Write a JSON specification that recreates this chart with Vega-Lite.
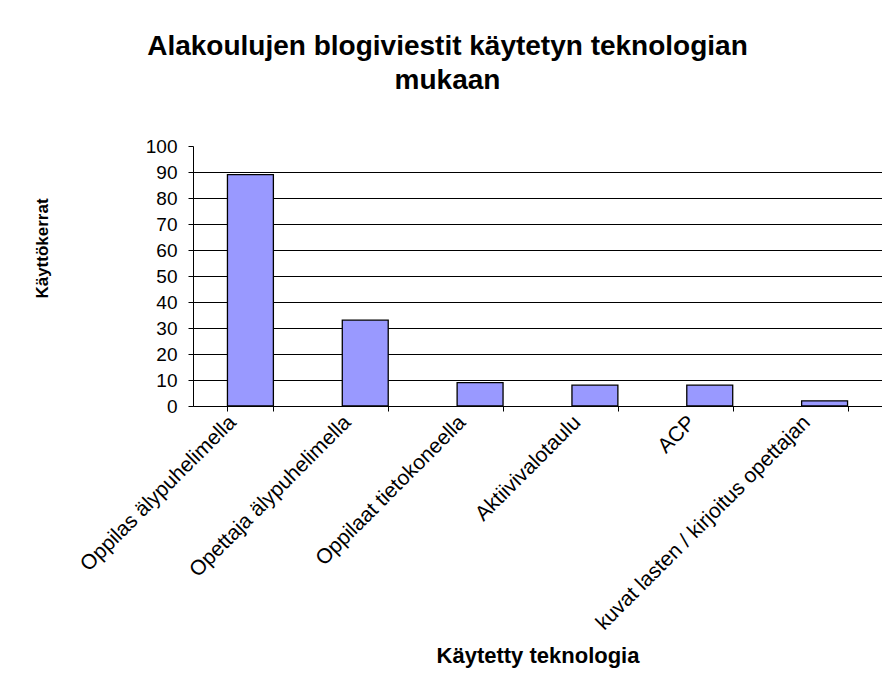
{
  "$schema": "https://vega.github.io/schema/vega-lite/v6.json",
  "autosize": {"type": "none"},
  "padding": {"left": 193, "top": 146, "right": 0, "bottom": 275},
  "width": 689,
  "height": 260,
  "background": "white",
  "title": {
    "text": ["Alakoulujen blogiviestit käytetyn teknologian", "mukaan"],
    "font": "Liberation Sans",
    "fontSize": 28,
    "fontWeight": "bold",
    "color": "#000000",
    "lineHeight": 34,
    "anchor": "middle",
    "dx": -90,
    "offset": 42
  },
  "data": {
    "values": [
      {"tekniikka": "Oppilas älypuhelimella", "kerrat": 89},
      {"tekniikka": "Opettaja älypuhelimella", "kerrat": 33},
      {"tekniikka": "Oppilaat tietokoneella", "kerrat": 9},
      {"tekniikka": "Aktiivivalotaulu", "kerrat": 8},
      {"tekniikka": "ACP", "kerrat": 8},
      {"tekniikka": "kuvat lasten / kirjoitus opettajan", "kerrat": 2}
    ]
  },
  "mark": {"type": "bar", "fill": "#9999FF", "stroke": "#000000", "strokeWidth": 1.3},
  "encoding": {
    "x": {
      "field": "tekniikka",
      "type": "nominal",
      "sort": null,
      "scale": {"paddingInner": 0.6, "paddingOuter": 0.3},
      "axis": {
        "title": "Käytetty teknologia",
        "titleFont": "Liberation Sans",
        "titleFontSize": 22,
        "titleFontWeight": "bold",
        "titleColor": "#000000",
        "titleY": 256,
        "titleBaseline": "alphabetic",
        "labelFont": "Liberation Sans",
        "labelFontSize": 21,
        "labelColor": "#000000",
        "labelAngle": -45,
        "labelAlign": "right",
        "labelBaseline": "middle",
        "labelOffset": -18,
        "labelPadding": 8,
        "labelLimit": 305,
        "tickBand": "extent",
        "tickColor": "#000000",
        "tickSize": 5,
        "domainColor": "#000000",
        "grid": false
      }
    },
    "y": {
      "field": "kerrat",
      "type": "quantitative",
      "scale": {"domain": [0, 100], "nice": false},
      "axis": {
        "title": "Käyttökerrat",
        "titleFont": "Liberation Sans",
        "titleFontSize": 17,
        "titleFontWeight": "bold",
        "titleColor": "#000000",
        "titleX": -151,
        "titleY": 102,
        "titleAngle": -90,
        "titleAlign": "center",
        "titleBaseline": "middle",
        "values": [0, 10, 20, 30, 40, 50, 60, 70, 80, 90, 100],
        "labelFont": "Liberation Sans",
        "labelFontSize": 19,
        "labelColor": "#000000",
        "labelPadding": 11,
        "tickColor": "#000000",
        "tickSize": 5,
        "domainColor": "#000000",
        "grid": true,
        "gridColor": "#000000",
        "gridOpacity": {"condition": {"test": "datum.value >= 100", "value": 0}, "value": 1}
      }
    }
  },
  "config": {
    "view": {"stroke": null},
    "axis": {"domainWidth": 1, "tickWidth": 1, "gridWidth": 1}
  }
}
